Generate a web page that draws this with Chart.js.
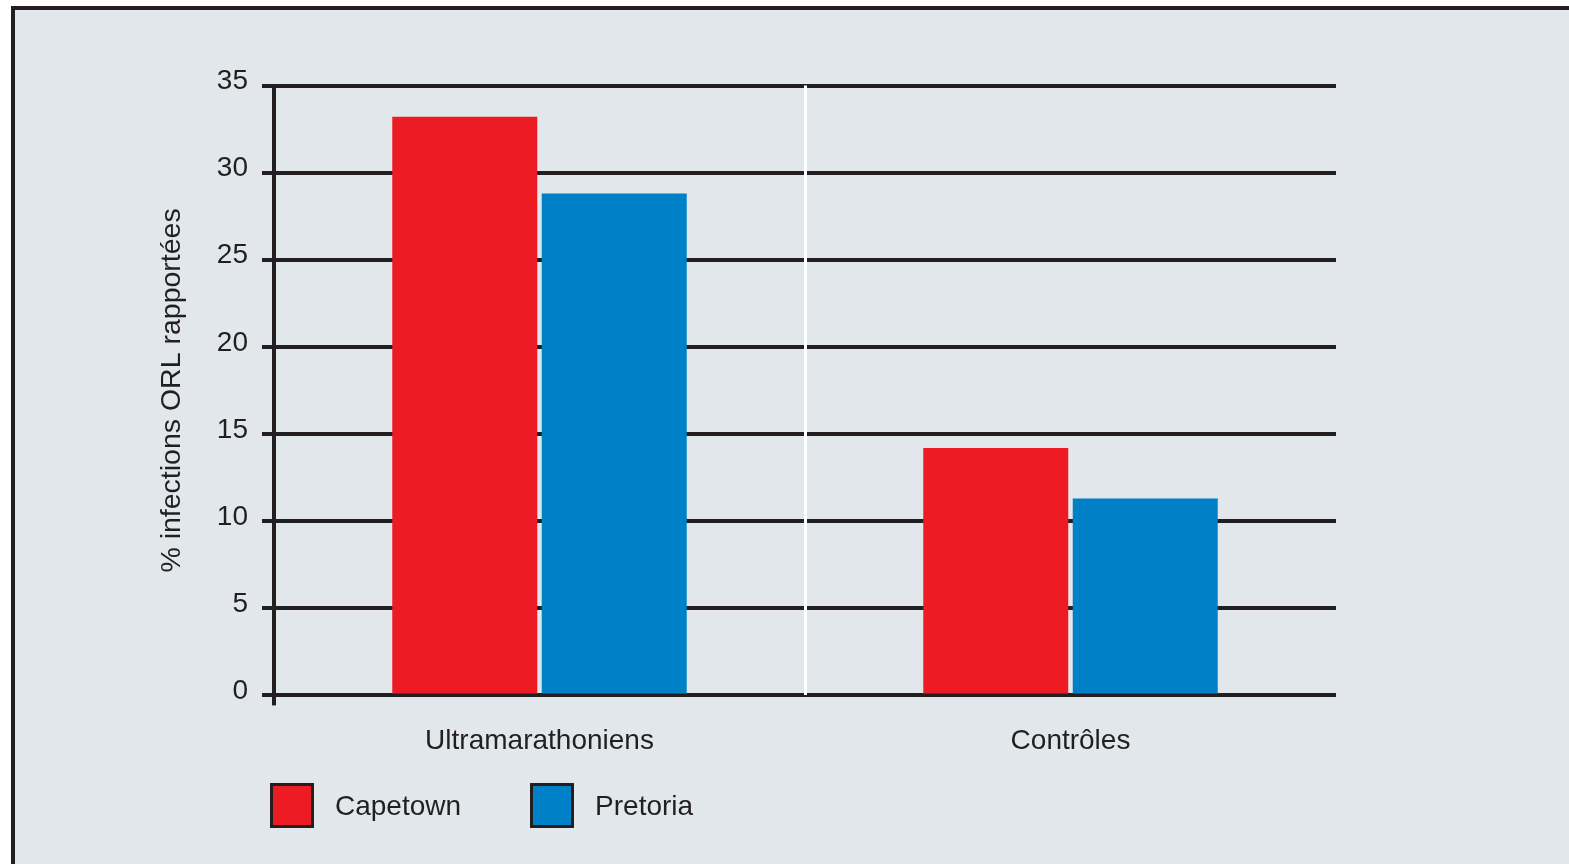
<!DOCTYPE html>
<html lang="fr">
<head>
    <meta charset="UTF-8">
    <title>Infections ORL</title>
    <script src="https://cdn.jsdelivr.net/npm/chart.js"></script>
    <style>
        html, body {
            margin: 0;
            padding: 0;
            background: #ffffff;
            overflow: hidden;
        }

        .frame {
            position: absolute;
            left: 11px;
            top: 6px;
            width: 1558px;
            height: 858px;
            box-sizing: border-box;
            border-top: 4px solid #231f20;
            border-left: 4px solid #231f20;
            background: #e1e7ea;
        }

        .chart-box {
            position: absolute;
            left: 0;
            top: 0;
            width: 1554px;
            height: 854px;
        }

        .legend {
            position: absolute;
            left: 255px;
            top: 773px;
            display: flex;
            font-family: "Liberation Sans", Arial, Helvetica, sans-serif;
            font-size: 28px;
            color: #231f20;
        }

        .legend-item {
            display: flex;
            align-items: center;
            margin-right: 69px;
        }

        .legend-swatch {
            width: 44px;
            height: 45px;
            box-sizing: border-box;
            border: 3px solid #231f20;
            margin-right: 21px;
        }
    </style>
</head>
<body>
    <div class="frame">
        <div class="chart-box">
            <canvas id="orlChart" width="1554" height="854"></canvas>
        </div>
        <div class="legend" id="orlLegend"></div>
    </div>

    <script>
        const categories = ['Ultramarathoniens', 'Contrôles'];
        const capetown = [33.2, 14.2];
        const pretoria = [28.8, 11.3];
        const yTicks = [0, 5, 10, 15, 20, 25, 30, 35];

        const INK = '#231f20';
        const FONT = '"Liberation Sans", Arial, Helvetica, sans-serif';

        const chart = new Chart(document.getElementById('orlChart'), {
            type: 'bar',
            data: {
                labels: categories,
                datasets: [
                    {
                        label: 'Capetown',
                        data: capetown,
                        backgroundColor: '#ed1c24',
                        borderWidth: 0,
                        barPercentage: 0.97,
                        categoryPercentage: 0.563
                    },
                    {
                        label: 'Pretoria',
                        data: pretoria,
                        backgroundColor: '#0080c6',
                        borderWidth: 0,
                        barPercentage: 0.97,
                        categoryPercentage: 0.563
                    }
                ]
            },
            options: {
                responsive: false,
                animation: false,
                layout: {
                    padding: { left: 0, top: 75.5, right: 233, bottom: 87 }
                },
                plugins: {
                    legend: { display: false },
                    tooltip: { enabled: false }
                },
                scales: {
                    x: {
                        offset: true,
                        border: { display: false },
                        grid: {
                            offset: true,
                            z: 1,
                            // only the middle separator is shown, in white
                            color: ctx => ctx.index === 1 ? '#ffffff' : (ctx.index === 0 ? INK : 'rgba(0,0,0,0)'),
                            lineWidth: ctx => ctx.index === 1 ? 3 : 4,
                            tickColor: ctx => ctx.index === 0 ? INK : 'rgba(0,0,0,0)',
                            tickLength: 10
                        },
                        ticks: {
                            color: INK,
                            padding: 19,
                            font: { family: FONT, size: 28 }
                        }
                    },
                    y: {
                        min: 0,
                        max: 35,
                        afterBuildTicks: scale => {
                            scale.ticks = yTicks.map(v => ({ value: v }));
                        },
                        afterFit: scale => {
                            scale.width = 259;
                        },
                        border: { display: true, color: INK, width: 4 },
                        grid: {
                            color: INK,
                            lineWidth: 4,
                            tickLength: 12
                        },
                        ticks: {
                            color: INK,
                            padding: 14,
                            labelOffset: -4,
                            font: { family: FONT, size: 28 }
                        },
                        title: {
                            display: true,
                            text: '% infections ORL rapportées',
                            color: INK,
                            font: { family: FONT, size: 28.5 },
                            padding: { top: 140, bottom: 0 }
                        }
                    }
                }
            }
        });

        // legend built from the datasets
        const legendEl = document.getElementById('orlLegend');
        chart.data.datasets.forEach(ds => {
            const item = document.createElement('div');
            item.className = 'legend-item';
            const swatch = document.createElement('div');
            swatch.className = 'legend-swatch';
            swatch.style.background = ds.backgroundColor;
            const text = document.createElement('span');
            text.textContent = ds.label;
            item.appendChild(swatch);
            item.appendChild(text);
            legendEl.appendChild(item);
        });
    </script>
</body>
</html>
